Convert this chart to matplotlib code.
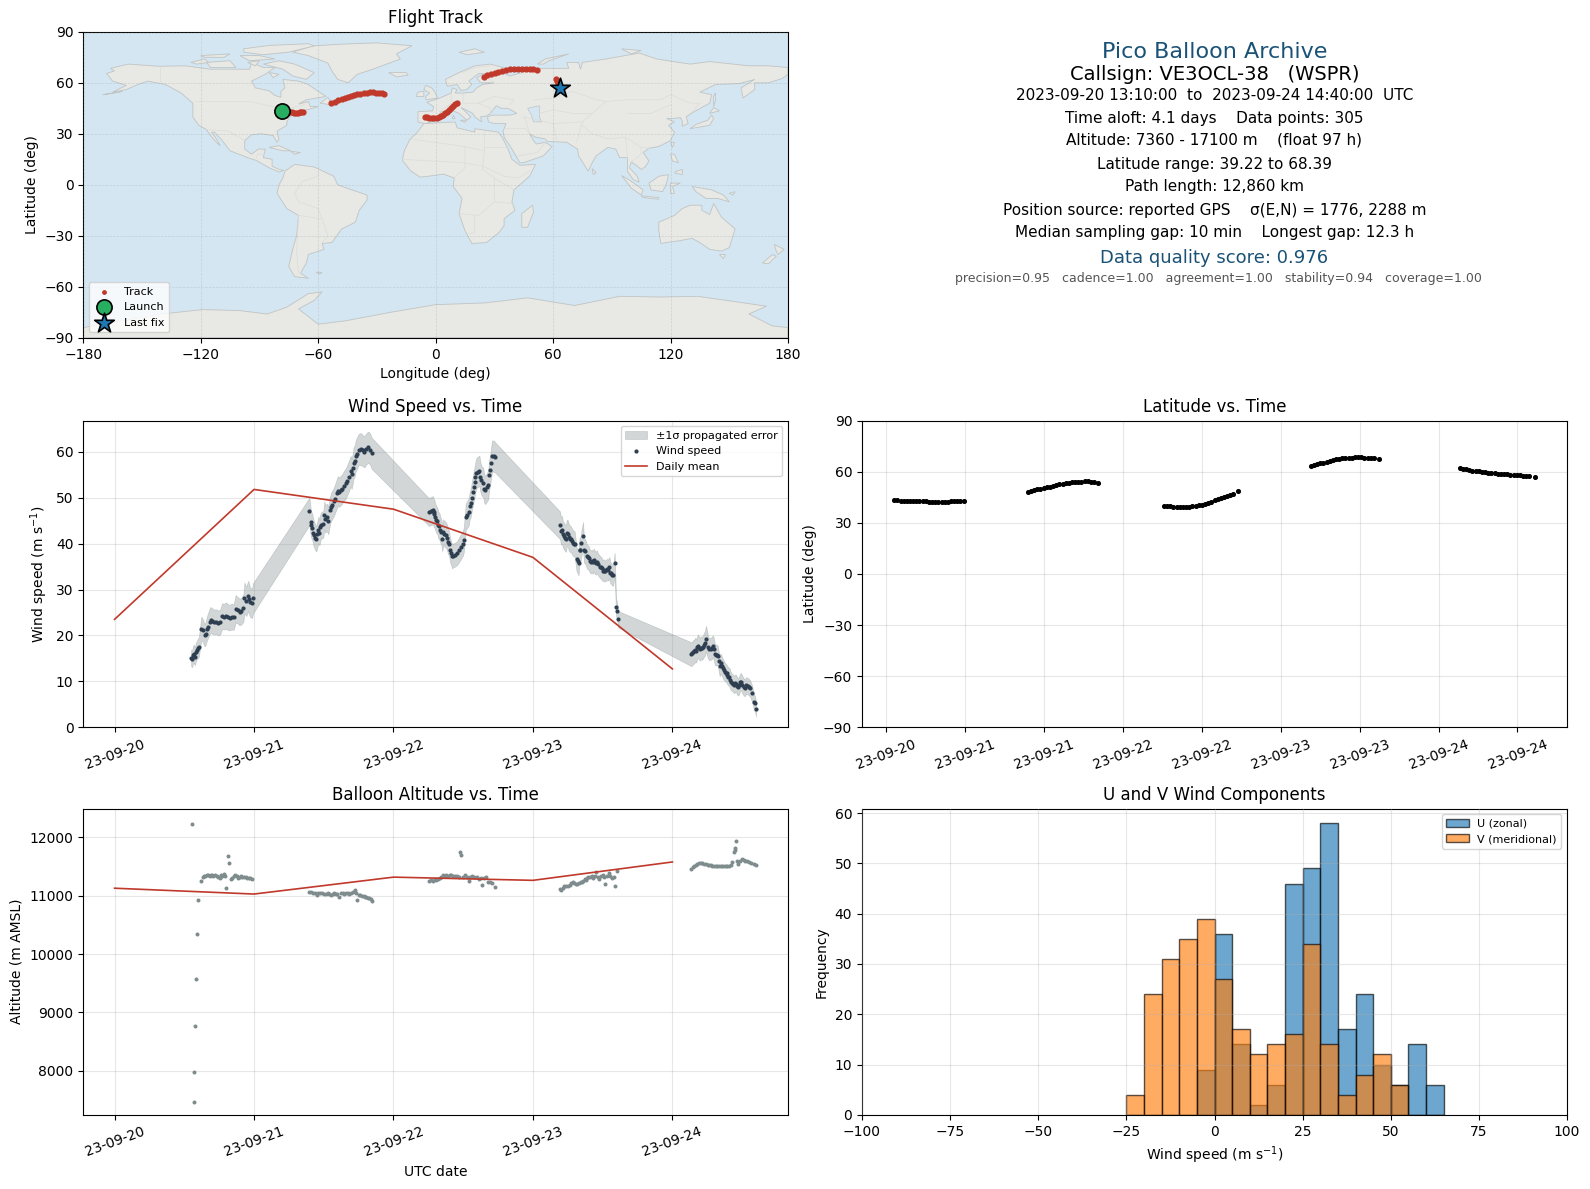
import matplotlib
matplotlib.use("Agg")
import matplotlib.pyplot as plt

W, H = 1590, 1189

# ---- track map ----
track_lon = [-78.7, -77.5, -76.5, -75.5, -74.5, -73.5, -72.5, -71.5, -70.5, -69.5, -68.5, -67.5,
             -53.6, -51.5, -49.8, -48, -46.3, -44.8, -43.2, -41.6, -40, -38.4, -36.8, -35.2, -33.6, -32, -30.4, -29, -27.6, -26.2,
             -5.5, -4.5, -3.2, -2, -0.8, 0.5, 1.8, 3, 4, 5, 6, 7, 8, 9, 10, 11,
             24.8, 26.5, 28.4, 30.2, 32, 34, 36, 38, 40, 42, 44, 46, 48, 50, 51.8,
             61.3, 61.8, 62.3, 62.8, 63.4]
track_lat = [43.4, 43, 42.8, 42.8, 42.8, 42.6, 42.5, 42.5, 42.5, 42.7, 42.8, 42.9,
             48, 48.9, 49.7, 50.6, 51.3, 51.9, 52.4, 52.8, 53.2, 53.5, 53.8, 54.1, 54.3, 54.3, 54.2, 54.1, 53.9, 53.5,
             40, 39.6, 39.3, 39.3, 39.3, 39.4, 39.7, 40.2, 41, 42, 43, 44.2, 45.2, 46.4, 47.4, 48.4,
             63.4, 64.3, 65.2, 65.9, 66.6, 67.2, 67.6, 67.9, 68.2, 68.3, 68.4, 68.3, 68.3, 68.2, 67.8,
             62, 61, 60, 58.8, 57.2]
launch = (-78.7, 43.2)
last_fix = (63.4, 57.1)

north_america = [(-168,65.5),(-164,67),(-166,68.5),(-157,71),(-141,69.7),(-128,70),(-115,68),(-108,68),(-95,68),(-94,72),(-88,69),(-82,69),(-87,65),(-94,61),(-92,57),(-85,55.3),(-82,52.5),(-79,51.5),(-79,55),(-77,57),(-78,62),(-70,61),(-65,59),(-60,55),(-56,52),(-66,50),(-70,47.5),(-65,49),(-64,46),(-60,46),(-66,44),(-70,43.5),(-70,41.7),(-74,40.5),(-76,37),(-76,35),(-81,31.5),(-80,26.5),(-81,25),(-83,29),(-89,30),(-94,29.5),(-97.5,26),(-97.5,21),(-94,18),(-90.5,21),(-87,21),(-88,16),(-83.5,15),(-83.5,11),(-80,9),(-77.5,8.5),(-80,7.5),(-85,10),(-91,14),(-96,16),(-105,20),(-109,26),(-113,31),(-114.5,31),(-112,27),(-110,23),(-112,25),(-115,29),(-117,32.5),(-121,35),(-124,40),(-124,48),(-130,54),(-138,59),(-147,61),(-152,59),(-158,56),(-165,54.5),(-158,58.5),(-165,61)]
greenland = [(-73,78),(-63,81.7),(-47,82.8),(-30,83.5),(-12,81.8),(-20,77),(-18,74),(-25,71),(-32,68),(-40,65),(-44.6,60),(-50,62),(-53,67),(-55,71.6),(-65,76)]
south_america = [(-77,8),(-72,12),(-62,10.5),(-52,5),(-50,0),(-44,-2.5),(-35,-6),(-35,-9),(-39,-15),(-41,-22),(-48,-26),(-53,-34),(-58,-34.5),(-57,-38),(-65,-41),(-66,-46),(-69,-52),(-65,-55),(-72,-54),(-75,-48),(-73,-38),(-71,-30),(-70,-18),(-76,-14),(-81,-5),(-80,0),(-78,4)]
africa = [(-6,36),(10,37),(11,33.5),(20,31),(20,33),(32,31),(34,28),(37,21),(39,15),(43,11.5),(51,12),(48,5),(40,-3),(39,-10),(40.5,-15),(35,-20),(35,-24),(32.5,-28),(26,-34),(18.5,-34.5),(15,-27),(12,-17),(13.5,-8),(9,-1),(9.5,4),(4,6.3),(-4,5),(-8,4.5),(-13,8.5),(-17,14.5),(-16,20),(-13,27),(-10,30)]
eurasia = [(-9,37),(-9,43),(-1.5,43.5),(-1,46),(-4.5,48.5),(2,51),(8,54),(8.5,57),(11,56),(10,54),(14,54),(19,54.5),(21,57),(24,59),(30,60),(23,60),(21,63),(25,65.5),(22,65.5),(17,61),(18.5,59),(16,56),(13,55.5),(11,59),(6,58),(5,62),(12,66),(20,70),(28,71),(41,67),(33,66.5),(38,64),(44,66),(44,68),(54,68.5),(68,68.5),(67,72),(73,72),(74,68),(75,72),(87,74),(104,77.5),(113,74),(130,71),(140,72.5),(160,70),(170,70),(180,69),(180,65),(177,62.5),(170,60),(163,60),(163,56),(157,51),(156,57),(163,62),(155,59.5),(143,59),(135,54.5),(141,53),(140,48),(132,43),(128,40),(129,36),(126,34.5),(126,37.5),(125,39.5),(121,39),(118,39),(122,37),(119,35),(122,31),(120,26),(114,22.5),(109,21.5),(106,19),(109,14),(107,10.5),(105,9),(103,11),(100,13.5),(99,10),(103,5),(104,1.5),(101,3),(98,8),(98,16),(94,16),(92,21),(88,22),(82,17),(80,13),(78,8),(73,17),(72.5,21),(67,25),(57,25.5),(56,27),(51,28),(48,30),(50,26),(51.5,24),(56,25),(59.5,22.5),(55,17),(45,13),(43,13),(39,21),(35,28),(34.5,31.5),(36,36),(30,36),(27,37),(26.5,40),(29,41),(38,41),(41.5,42),(37,45),(33.5,45),(31,46.5),(28,42),(26,40.5),(23,40),(23.5,37),(20,40),(19,42),(13,45.5),(18,40),(16,38),(12,42),(8,44),(3,43),(0,39),(-2,37),(-5.5,36)]
australia = [(114,-22),(122,-18),(126,-14),(130,-12),(136,-12),(136,-15),(140,-17.5),(142,-11),(146,-19),(153,-26),(150,-37),(146,-39),(140,-38),(135,-34),(131,-31.5),(124,-33),(115,-34.5),(114,-27)]
antarctica = [(-180,-84),(-140,-76),(-119,-73.4),(-100,-74),(-86,-76),(-76,-72),(-65,-64),(-58,-63),(-62,-68),(-70,-73),(-60,-82),(-46,-80),(-23,-75),(0,-70.5),(25,-69.5),(47,-66.5),(71,-71),(94,-65.6),(115,-66),(134,-65.6),(169,-71.4),(160,-76),(172,-83),(180,-84),(180,-90),(-180,-90)]
islands = [
    [(-80,73),(-72,71),(-62,66),(-66,62),(-73,64),(-78,68),(-88,71)],
    [(-117,72),(-105,73),(-102,69),(-115,69)],
    [(-98,80),(-85,82),(-65,83),(-62,81.7),(-75,78),(-88,76.5),(-98,78)],
    [(-125,72),(-118,74),(-116,72),(-122,71)],
    [(-100,76),(-90,76),(-82,74),(-95,73)],
    [(-120,76),(-105,77),(-108,75),(-118,75)],
    [(-96,72),(-90,73),(-92,70)],
    [(-85,66),(-80,65),(-83,63)],
    [(-59,48),(-53,47),(-55,51.5)],
    [(-85,22),(-80,23),(-74,20),(-78,20)],
    [(-74,19.7),(-69,19),(-72,18)],
    [(-5,50),(1,51),(0,54),(-2,57),(-5,58.5),(-6,56),(-3,54),(-5,52)],
    [(-10,52),(-6,52),(-6,55),(-9,54.5)],
    [(-24,66),(-15,66),(-14,64.5),(-20,63.5)],
    [(12,78),(20,80),(25,78),(16,76.5)],
    [(52,71),(56,74),(68,77),(58,73),(55,71)],
    [(95,80),(105,79),(100,77)],
    [(130,33),(135,34),(140,35),(142,39),(141,41),(139,38),(133,35.5)],
    [(140,42),(145,43.5),(142,45.5)],
    [(142,46),(143,50),(143,54),(142,52)],
    [(120,18),(122,18),(124,13),(121,14)],
    [(122,7),(126,6),(126,9),(123,8)],
    [(109,1),(114,5),(119,6),(118,1),(116,-4),(110,-3)],
    [(95,5.5),(100,2),(106,-3),(105,-6),(100,-2)],
    [(105,-6.5),(114,-7.5),(114,-8.5),(106,-7.5)],
    [(120,1),(125,1),(121,-1),(122,-5),(120,-5)],
    [(131,-1),(141,-3),(147,-6),(150,-10),(144,-8),(138,-8),(133,-4)],
    [(145,-41),(148,-41),(147,-43.5)],
    [(173,-35),(178,-38),(175,-41),(174,-39)],
    [(172,-41),(174,-42),(170,-46.5),(167,-46)],
    [(49.5,-12),(50,-16),(47,-25),(44,-25),(44,-17)],
    [(80,9.5),(82,7),(80.5,6)],
    [(120,25),(122,25),(121,22)],
    [(9,41),(10,39),(8.5,39)],
    [(12.5,38),(15.5,38),(15,36.7)],
    [(-61,-51.5),(-58,-51.5),(-59,-52.5)],
    [(-170,53),(-160,55),(-164,54)],
    [(150,-5),(153,-4),(152,-6)],
]
caspian = [(47,45),(53,46.5),(53,40),(54,37),(50,37),(49,41)]
borders = [
    [(-123,49),(-95,49),(-83,46),(-79,43),(-75,45),(-67,47)],
    [(-141,69.7),(-141,60)],
    [(-117,32.5),(-106,31.7),(-97.5,26)],
    [(-92,14.5),(-91,18),(-88,18)],
    [(-70,-18),(-58,-20),(-55,-30),(-58,-34)],
    [(-72,-5),(-70,-10),(-60,-14),(-58,-20)],
    [(-70,-18),(-71,-40),(-70,-52)],
    [(-72,-5),(-68,2),(-60,5),(-60,8)],
    [(-13,27),(12,23),(25,20),(25,31)],
    [(25,22),(37,22)],
    [(15,23),(15,10),(9.5,4)],
    [(25,22),(24,9),(30,4),(30,-10),(22,-18),(12,-17)],
    [(-17,15),(14,13),(24,11),(35,5),(42,4),(48,8)],
    [(30,-10),(40,-11)],
    [(20,-18),(20,-28),(17,-29)],
    [(30,4),(40,-3)],
    [(2,43),(8,48),(8,54)],
    [(14,54),(14,48),(22,48),(30,52),(40,50),(38,47)],
    [(13,47),(7,44)],
    [(22,48),(28,45),(28,42)],
    [(25,65),(30,60)],
    [(14,66),(20,69),(28,70)],
    [(50,50),(60,51),(70,55),(82,50),(87,49),(98,50),(115,50),(120,53),(130,48),(135,48),(131,43)],
    [(53,42),(60,44),(70,42),(80,42),(87,49)],
    [(60,36),(75,37),(80,42)],
    [(45,40),(60,36),(62,25)],
    [(48,30),(46,38),(45,40)],
    [(36,33),(46,33),(48,30)],
    [(75,37),(72,25)],
    [(75,35),(80,30),(88,27),(97,28),(98,16)],
    [(97,28),(105,22),(109,21.5)],
    [(100,13.5),(105,18),(105,22)],
    [(98,42),(110,42),(120,47)],
    [(42,17),(52,19),(56,25)],
]

# ---- wind speed ----
wind_t = [0.549, 0.556, 0.563, 0.569, 0.576, 0.583, 0.590, 0.597, 0.604, 0.622, 0.632, 0.646, 0.653, 0.660, 0.667, 0.681, 0.688, 0.701, 0.715, 0.729, 0.743, 0.757, 0.771, 0.785, 0.799, 0.812, 0.826, 0.840, 0.854, 0.868, 0.882, 0.896, 0.910, 0.924, 0.931, 0.944, 0.958, 0.965, 0.972, 0.986, 0.993,
          1.397, 1.407, 1.412, 1.419, 1.426, 1.433, 1.440, 1.447, 1.454, 1.462, 1.469, 1.476, 1.483, 1.497, 1.504, 1.511, 1.525, 1.532, 1.546, 1.553, 1.560, 1.574, 1.581, 1.595, 1.602, 1.609, 1.623, 1.630, 1.644, 1.658, 1.665, 1.679, 1.693, 1.700, 1.708, 1.714, 1.722, 1.729, 1.736, 1.750, 1.764, 1.778, 1.792, 1.806, 1.820, 1.834, 1.843,
          2.257, 2.266, 2.273, 2.280, 2.287, 2.294, 2.301, 2.308, 2.315, 2.322, 2.329, 2.336, 2.343, 2.350, 2.357, 2.364, 2.378, 2.385, 2.392, 2.399, 2.406, 2.413, 2.420, 2.427, 2.441, 2.455, 2.469, 2.483, 2.497, 2.504, 2.518, 2.525, 2.539, 2.546, 2.553, 2.560, 2.567, 2.574, 2.581, 2.588, 2.595, 2.609, 2.616, 2.623, 2.630, 2.644, 2.651, 2.658, 2.672, 2.679, 2.686, 2.693, 2.700, 2.707, 2.721, 2.728,
          3.194, 3.201, 3.208, 3.215, 3.222, 3.229, 3.236, 3.243, 3.250, 3.257, 3.264, 3.271, 3.278, 3.285, 3.292, 3.299, 3.313, 3.320, 3.327, 3.334, 3.341, 3.348, 3.359, 3.366, 3.373, 3.387, 3.394, 3.401, 3.408, 3.415, 3.422, 3.429, 3.436, 3.443, 3.450, 3.457, 3.464, 3.478, 3.485, 3.492, 3.499, 3.506, 3.513, 3.520, 3.534, 3.541, 3.548, 3.555, 3.562, 3.569, 3.576, 3.586, 3.596, 3.603, 3.612,
          4.136, 4.143, 4.150, 4.157, 4.164, 4.171, 4.178, 4.185, 4.192, 4.199, 4.206, 4.213, 4.220, 4.227, 4.234, 4.241, 4.255, 4.262, 4.276, 4.283, 4.290, 4.297, 4.304, 4.311, 4.318, 4.325, 4.332, 4.339, 4.346, 4.353, 4.360, 4.367, 4.374, 4.381, 4.388, 4.395, 4.402, 4.409, 4.416, 4.423, 4.430, 4.437, 4.444, 4.451, 4.458, 4.465, 4.472, 4.479, 4.486, 4.493, 4.500, 4.514, 4.521, 4.528, 4.542, 4.549, 4.556, 4.571, 4.585, 4.592, 4.600]
wind_v = [15.1, 14.9, 15.8, 16.0, 15.4, 16.4, 16.8, 17.2, 17.4, 21.5, 21.1, 20.0, 20.4, 21.3, 21.9, 23.0, 23.4, 23.1, 22.9, 23.0, 22.7, 22.9, 24.2, 24.1, 24.3, 24.0, 23.9, 24.1, 24.0, 25.8, 25.5, 25.1, 25.3, 26.0, 28.2, 27.4, 28.6, 27.9, 27.2, 27.0, 28.1,
          47.0, 44.6, 44.0, 43.5, 42.4, 41.8, 41.3, 41.1, 42.0, 43.0, 42.4, 43.6, 44.0, 44.2, 46.2, 45.4, 45.7, 45.0, 47.4, 48.0, 48.4, 49.2, 49.8, 51.0, 51.5, 51.2, 51.6, 51.8, 52.6, 53.1, 53.6, 54.6, 55.8, 55.2, 56.4, 57.6, 58.0, 59.1, 59.6, 60.5, 60.6, 60.3, 60.0, 60.7, 61.0, 60.5, 59.7,
          46.8, 47.2, 47.0, 47.4, 46.9, 46.4, 45.7, 45.2, 44.9, 44.0, 43.8, 43.0, 42.6, 41.1, 42.5, 42.2, 41.8, 41.2, 40.4, 40.0, 38.5, 38.0, 37.2, 37.4, 37.6, 37.9, 38.6, 39.3, 40.0, 40.8, 45.8, 46.2, 46.9, 48.2, 48.8, 50.0, 51.2, 52.3, 53.4, 54.6, 55.4, 55.7, 55.9, 54.5, 53.8, 53.2, 52.0, 51.7, 52.4, 52.8, 54.9, 56.0, 57.6, 59.1, 59.0, 58.8,
          44.0, 42.8, 43.0, 42.0, 41.7, 41.3, 41.1, 42.3, 42.2, 41.4, 41.1, 41.0, 40.6, 40.2, 40.0, 39.9, 36.6, 36.2, 35.7, 38.6, 38.7, 40.1, 41.7, 38.5, 38.4, 37.2, 37.0, 36.8, 36.2, 36.0, 36.2, 35.9, 36.4, 36.0, 35.7, 36.1, 35.6, 35.0, 34.8, 34.6, 34.1, 34.3, 34.0, 34.1, 34.4, 34.2, 34.8, 33.6, 33.5, 33.1, 33.2, 35.7, 26.2, 25.4, 23.5,
          15.9, 16.1, 16.4, 16.5, 16.9, 16.6, 17.4, 17.6, 17.2, 17.0, 17.3, 17.2, 17.5, 18.0, 18.3, 19.3, 17.5, 17.0, 17.1, 17.3, 17.6, 17.0, 15.9, 15.7, 15.7, 15.6, 14.4, 13.3, 13.9, 13.4, 12.9, 12.5, 12.1, 11.9, 11.7, 11.3, 11.0, 10.9, 10.2, 9.9, 9.7, 9.5, 9.3, 9.6, 9.4, 8.9, 8.8, 9.2, 9.8, 9.9, 9.3, 8.7, 8.6, 9.1, 8.9, 8.7, 8.5, 7.4, 5.4, 5.2, 3.9]
wind_sig = [1.8, 1.8, 1.9, 2.0, 1.9, 2.0, 2.0, 2.1, 2.1, 2.6, 2.5, 2.4, 2.5, 2.6, 2.7, 2.8, 2.8, 2.8, 2.7, 2.7, 2.7, 2.7, 2.8, 2.8, 2.9, 2.8, 2.8, 2.8, 2.8, 3.0, 2.9, 2.9, 2.9, 3.0, 3.3, 3.2, 3.3, 3.3, 3.2, 3.2, 3.3,
            3.0, 2.9, 2.9, 2.8, 2.8, 2.8, 2.8, 2.8, 2.8, 2.9, 2.8, 2.9, 2.9, 2.9, 3.0, 3.0, 3.0, 3.0, 3.0, 3.1, 3.1, 3.1, 3.1, 3.2, 3.2, 3.2, 3.2, 3.2, 3.2, 3.3, 3.3, 3.3, 3.3, 3.3, 3.3, 3.4, 3.4, 3.4, 3.4, 3.4, 3.5, 3.4, 3.4, 3.4, 3.4, 3.4, 3.4,
            3.0, 3.0, 3.0, 3.0, 3.0, 3.0, 2.9, 2.9, 2.9, 2.9, 2.9, 2.8, 2.8, 2.8, 2.8, 2.8, 2.8, 2.8, 2.7, 2.7, 2.6, 2.6, 2.6, 2.6, 2.6, 2.6, 2.7, 2.7, 2.7, 2.7, 2.9, 2.9, 3.0, 3.0, 3.1, 3.1, 3.2, 3.2, 3.3, 3.3, 3.3, 3.3, 3.3, 3.2, 3.2, 3.2, 3.1, 3.1, 3.1, 3.2, 3.2, 3.3, 3.3, 3.4, 3.4, 3.3,
            3.0, 3.0, 3.0, 2.9, 2.9, 2.9, 2.9, 2.9, 2.9, 2.9, 2.9, 2.8, 2.8, 2.8, 2.8, 2.8, 2.6, 2.6, 2.6, 2.7, 2.7, 2.8, 3.0, 2.7, 2.7, 2.6, 2.6, 2.6, 2.5, 2.5, 2.5, 2.5, 2.5, 2.5, 2.5, 2.5, 2.4, 2.4, 2.4, 2.4, 2.3, 2.3, 2.3, 2.3, 2.3, 2.3, 2.3, 2.3, 2.3, 2.3, 2.3, 2.3, 1.9, 1.9, 1.8,
            2.6, 2.6, 2.6, 2.6, 2.6, 2.5, 2.5, 2.6, 2.5, 2.5, 2.5, 2.5, 2.5, 2.6, 2.7, 2.8, 2.5, 2.4, 2.4, 2.4, 2.4, 2.4, 2.3, 2.3, 2.2, 2.2, 2.2, 2.2, 2.2, 2.1, 2.1, 2.1, 2.0, 2.0, 2.0, 2.0, 2.0, 2.0, 2.0, 1.9, 1.9, 1.9, 1.9, 1.9, 1.9, 1.9, 1.9, 1.9, 1.9, 1.9, 1.9, 1.9, 1.8, 1.8, 1.8, 1.8, 1.8, 1.8, 1.7, 1.7, 1.6]
day_ticks = [0, 1, 2, 3, 4]
day_labels = ['23-09-20', '23-09-21', '23-09-22', '23-09-23', '23-09-24']
wind_daily = [23.5, 51.8, 47.5, 37.0, 12.7]

# ---- latitude ----
lat_t = [0.549, 0.570, 0.590, 0.610, 0.630, 0.650, 0.670, 0.690, 0.710, 0.730, 0.750, 0.770, 0.790, 0.810, 0.830, 0.850, 0.870, 0.890, 0.910, 0.930, 0.950, 0.970, 0.990,
         1.397, 1.417, 1.437, 1.457, 1.477, 1.497, 1.517, 1.537, 1.557, 1.577, 1.597, 1.617, 1.637, 1.657, 1.677, 1.697, 1.717, 1.737, 1.757, 1.777, 1.797, 1.817, 1.843,
         2.260, 2.280, 2.300, 2.320, 2.340, 2.360, 2.380, 2.400, 2.420, 2.440, 2.460, 2.480, 2.500, 2.520, 2.540, 2.560, 2.580, 2.600, 2.620, 2.640, 2.660, 2.680, 2.700, 2.732,
         3.192, 3.210, 3.230, 3.250, 3.270, 3.290, 3.310, 3.330, 3.350, 3.370, 3.390, 3.410, 3.430, 3.450, 3.470, 3.490, 3.510, 3.530, 3.550, 3.570, 3.590, 3.620,
         4.135, 4.155, 4.175, 4.195, 4.215, 4.235, 4.255, 4.275, 4.295, 4.315, 4.335, 4.355, 4.375, 4.395, 4.415, 4.435, 4.455, 4.475, 4.495, 4.515, 4.535, 4.555, 4.575, 4.612]
lat_v = [43.6, 43.4, 43.0, 42.8, 42.8, 42.9, 42.9, 42.8, 42.8, 42.7, 42.6, 42.5, 42.4, 42.4, 42.4, 42.4, 42.4, 42.5, 42.6, 42.8, 42.9, 42.9, 42.8,
         48.3, 48.7, 49.1, 49.6, 50.0, 50.4, 50.9, 51.3, 51.7, 52.2, 52.6, 52.9, 53.2, 53.5, 53.7, 53.9, 54.1, 54.2, 54.3, 54.3, 54.2, 54.1, 53.6,
         40.1, 39.9, 39.6, 39.4, 39.3, 39.3, 39.3, 39.3, 39.4, 39.6, 39.9, 40.3, 40.7, 41.2, 41.8, 42.4, 43.1, 43.7, 44.4, 45.0, 45.7, 46.4, 47.1, 48.4,
         63.4, 63.9, 64.4, 64.9, 65.4, 65.9, 66.3, 66.7, 67.2, 67.6, 67.9, 68.1, 68.2, 68.3, 68.4, 68.4, 68.4, 68.3, 68.3, 68.3, 68.2, 67.5,
         62.0, 61.6, 61.4, 61.0, 60.7, 60.4, 60.2, 59.9, 59.6, 59.4, 59.2, 59.0, 58.9, 58.7, 58.5, 58.4, 58.2, 58.0, 57.8, 57.8, 57.7, 57.6, 57.5, 57.0]
lat_ticks = [0.5, 1, 1.5, 2, 2.5, 3, 3.5, 4, 4.5]
lat_tick_labels = ['23-09-20', '23-09-21', '23-09-21', '23-09-22', '23-09-22', '23-09-23', '23-09-23', '23-09-24', '23-09-24']

# ---- altitude ----
alt_t = [0.558, 0.567, 0.571, 0.580, 0.587, 0.593, 0.599, 0.622, 0.634, 0.644, 0.651, 0.661, 0.671, 0.681, 0.689, 0.699, 0.709, 0.721, 0.731, 0.741, 0.753, 0.763, 0.773, 0.785, 0.791, 0.801, 0.814, 0.821, 0.833, 0.843, 0.853, 0.865, 0.875, 0.885, 0.897, 0.907, 0.917, 0.929, 0.939, 0.949, 0.962, 0.972, 0.987,
         1.397, 1.410, 1.426, 1.438, 1.449, 1.462, 1.476, 1.490, 1.503, 1.516, 1.527, 1.538, 1.551, 1.564, 1.575, 1.587, 1.598, 1.609, 1.622, 1.635, 1.647, 1.659, 1.671, 1.683, 1.695, 1.708, 1.721, 1.729, 1.737, 1.750, 1.763, 1.775, 1.785, 1.795, 1.805, 1.816, 1.827, 1.836, 1.843,
         2.258, 2.270, 2.283, 2.296, 2.308, 2.320, 2.332, 2.344, 2.356, 2.368, 2.380, 2.392, 2.404, 2.416, 2.428, 2.440, 2.452, 2.468, 2.478, 2.487, 2.500, 2.516, 2.527, 2.538, 2.550, 2.565, 2.580, 2.596, 2.612, 2.624, 2.635, 2.648, 2.660, 2.676, 2.690, 2.708, 2.728,
         3.192, 3.202, 3.213, 3.225, 3.238, 3.253, 3.265, 3.276, 3.285, 3.298, 3.310, 3.317, 3.330, 3.342, 3.349, 3.360, 3.372, 3.381, 3.390, 3.397, 3.410, 3.420, 3.429, 3.442, 3.455, 3.466, 3.477, 3.490, 3.500, 3.510, 3.519, 3.530, 3.542, 3.555, 3.567, 3.580, 3.590, 3.606,
         4.135, 4.145, 4.155, 4.167, 4.180, 4.192, 4.204, 4.215, 4.228, 4.240, 4.252, 4.263, 4.275, 4.287, 4.299, 4.311, 4.323, 4.335, 4.347, 4.359, 4.371, 4.383, 4.395, 4.407, 4.418, 4.429, 4.442, 4.448, 4.452, 4.455, 4.463, 4.471, 4.482, 4.497, 4.510, 4.522, 4.535, 4.548, 4.567, 4.583, 4.600]
alt_v = [12231, 7462, 7974, 8761, 9581, 10350, 10932, 11256, 11330, 11345, 11342, 11350, 11362, 11345, 11359, 11350, 11335, 11348, 11340, 11320, 11313, 11360, 11340, 11376, 11345, 11131, 11684, 11564, 11290, 11310, 11345, 11359, 11345, 11300, 11330, 11340, 11330, 11330, 11325, 11310, 11313, 11300, 11285,
         11063, 11070, 11046, 11040, 11006, 11040, 11045, 11040, 11034, 11028, 11040, 11034, 11020, 11030, 11045, 11028, 11035, 10972, 11040, 11046, 11030, 11040, 11045, 11028, 11045, 11060, 11103, 11050, 10932, 11010, 11006, 11000, 10990, 10972, 10980, 10965, 10960, 10950, 10915,
         11256, 11265, 11250, 11280, 11274, 11290, 11310, 11330, 11348, 11340, 11360, 11345, 11359, 11350, 11340, 11335, 11340, 11330, 11758, 11700, 11330, 11359, 11320, 11262, 11330, 11345, 11319, 11330, 11290, 11310, 11177, 11300, 11330, 11234, 11240, 11217, 11154,
         11115, 11103, 11130, 11160, 11170, 11160, 11190, 11215, 11234, 11225, 11205, 11200, 11225, 11245, 11234, 11250, 11285, 11274, 11300, 11330, 11315, 11335, 11313, 11340, 11416, 11330, 11290, 11345, 11360, 11330, 11200, 11340, 11387, 11340, 11302, 11320, 11160, 11427,
         11461, 11490, 11515, 11530, 11545, 11555, 11560, 11564, 11550, 11540, 11535, 11530, 11520, 11515, 11510, 11507, 11505, 11510, 11505, 11507, 11510, 11515, 11515, 11518, 11530, 11575, 11758, 11790, 11815, 11940, 11600, 11541, 11600, 11627, 11610, 11605, 11598, 11585, 11570, 11545, 11524]
alt_daily = [11130, 11030, 11320, 11265, 11580]

# ---- U/V histogram ----
bin_left = [-25, -20, -15, -10, -5, 0, 5, 10, 15, 20, 25, 30, 35, 40, 45, 50, 55, 60]
u_counts = [0, 0, 0, 0, 9, 36, 14, 2, 6, 46, 49, 58, 17, 24, 10, 6, 14, 6]
v_counts = [4, 24, 31, 35, 39, 27, 17, 12, 14, 16, 34, 14, 4, 8, 12, 6, 0, 0]

# ---- summary text ----
info_lines = [
    'Callsign: VE3OCL-38   (WSPR)',
    '2023-09-20 13:10:00  to  2023-09-24 14:40:00  UTC',
    'Time aloft: 4.1 days    Data points: 305',
    'Altitude: 7360 - 17100 m    (float 97 h)',
    'Latitude range: 39.22 to 68.39',
    'Path length: 12,860 km',
    'Position source: reported GPS    σ(E,N) = 1776, 2288 m',
    'Median sampling gap: 10 min    Longest gap: 12.3 h',
]
info_y = [75, 95, 118, 140, 164, 187, 210, 233]
info_size = [14, 11, 11, 11, 11, 11, 11, 11]

RED = '#c0392b'
NAVY = '#2c3e50'
GREY = '#7f8c8d'
BLUE = '#1a5276'


def make_axes(x0, y0, x1, y1):
    return fig.add_axes([x0 / W, 1 - y1 / H, (x1 - x0) / W, (y1 - y0) / H])


fig = plt.figure(figsize=(W / 100, H / 100), dpi=100)
LEFT = (83.2, 788)
RIGHT = (862, 1567)
ax_map = make_axes(LEFT[0], 31.8, LEFT[1], 337.8)
ax_wind = make_axes(LEFT[0], 420.6, LEFT[1], 727.2)
ax_lat = make_axes(RIGHT[0], 420.6, RIGHT[1], 727.2)
ax_alt = make_axes(LEFT[0], 808.6, LEFT[1], 1114.8)
ax_hist = make_axes(RIGHT[0], 808.6, RIGHT[1], 1114.8)

# map
ax_map.set_facecolor('#d4e6f1')
for poly in [north_america, greenland, south_america, africa, eurasia, australia, antarctica] + islands:
    ax_map.fill([p[0] for p in poly], [p[1] for p in poly], facecolor='#e8e8e4',
                edgecolor='#c0c4c4', linewidth=0.6, zorder=1)
ax_map.fill([p[0] for p in caspian], [p[1] for p in caspian], facecolor='#d4e6f1',
            edgecolor='#c0c4c4', linewidth=0.5, zorder=1)
for line in borders:
    ax_map.plot([p[0] for p in line], [p[1] for p in line], color='#dcdcda', linewidth=0.5, zorder=1.5)
ax_map.scatter(track_lon, track_lat, s=12, color=RED, zorder=3)
ax_map.scatter([], [], s=6, color=RED, label='Track')
ax_map.scatter(*launch, s=120, color='#27ae60', edgecolor='black', linewidth=1.2, zorder=4, label='Launch')
ax_map.scatter(*last_fix, s=220, marker='*', color='#1f77b4', edgecolor='black', linewidth=1.2, zorder=4, label='Last fix')
ax_map.set_xlim(-180, 180)
ax_map.set_ylim(-90, 90)
ax_map.set_xticks(range(-180, 181, 60))
ax_map.set_yticks(range(-90, 91, 30))
ax_map.grid(alpha=0.25, linewidth=0.5, linestyle='--', color='#7f8c8d', zorder=2)
ax_map.set_axisbelow(False)
ax_map.set_xlabel('Longitude (deg)')
ax_map.set_ylabel('Latitude (deg)')
ax_map.set_title('Flight Track')
ax_map.legend(loc='lower left', fontsize=8)

# summary text
center_x = (RIGHT[0] + RIGHT[1]) / 2 / W
fig.text(center_x, 1 - 52 / H, 'Pico Balloon Archive', ha='center', va='center', fontsize=16, color=BLUE)
for txt, y, size in zip(info_lines, info_y, info_size):
    fig.text(center_x, 1 - y / H, txt, ha='center', va='center', fontsize=size)
fig.text(center_x, 1 - 258 / H, 'Data quality score: 0.976', ha='center', va='center', fontsize=13, color=BLUE)
fig.text(center_x + 4 / W, 1 - 279 / H, 'precision=0.95   cadence=1.00   agreement=1.00   stability=0.94   coverage=1.00',
         ha='center', va='center', fontsize=9, color='#555555')

# wind speed
lower = [v - s for v, s in zip(wind_v, wind_sig)]
upper = [v + s for v, s in zip(wind_v, wind_sig)]
ax_wind.fill_between(wind_t, lower, upper, color=GREY, alpha=0.35, linewidth=0.5, label='±1σ propagated error')
ax_wind.scatter(wind_t, wind_v, s=4, color=NAVY, zorder=3, label='Wind speed')
ax_wind.plot(day_ticks, wind_daily, color=RED, linewidth=1.2, zorder=4, label='Daily mean')
ax_wind.set_xlim(-0.225, 4.829)
ax_wind.set_ylim(0, 66.8)
ax_wind.set_xticks(day_ticks)
ax_wind.set_xticklabels(day_labels, rotation=20)
ax_wind.grid(alpha=0.3)
ax_wind.set_axisbelow(True)
ax_wind.set_ylabel('Wind speed (m s$^{-1}$)')
ax_wind.set_title('Wind Speed vs. Time')
ax_wind.legend(loc='upper right', fontsize=8)

# latitude
ax_lat.scatter(lat_t, lat_v, s=7, color='black', zorder=3)
ax_lat.set_xlim(0.346, 4.814)
ax_lat.set_ylim(-90, 90)
ax_lat.set_yticks(range(-90, 91, 30))
ax_lat.set_xticks(lat_ticks)
ax_lat.set_xticklabels(lat_tick_labels, rotation=20)
ax_lat.grid(alpha=0.3)
ax_lat.set_axisbelow(True)
ax_lat.set_ylabel('Latitude (deg)')
ax_lat.set_title('Latitude vs. Time')

# altitude
ax_alt.scatter(alt_t, alt_v, s=3.5, color=GREY, zorder=3)
ax_alt.plot(day_ticks, alt_daily, color=RED, linewidth=1.2, zorder=4)
ax_alt.set_xlim(-0.225, 4.829)
ax_alt.set_ylim(7245, 12495)
ax_alt.set_yticks([8000, 9000, 10000, 11000, 12000])
ax_alt.set_xticks(day_ticks)
ax_alt.set_xticklabels(day_labels, rotation=20)
ax_alt.grid(alpha=0.3)
ax_alt.set_axisbelow(True)
ax_alt.set_xlabel('UTC date')
ax_alt.set_ylabel('Altitude (m AMSL)')
ax_alt.set_title('Balloon Altitude vs. Time')

# histogram
ax_hist.bar(bin_left, u_counts, width=5, align='edge', color='#1f77b4', alpha=0.65, edgecolor='black', label='U (zonal)')
ax_hist.bar(bin_left, v_counts, width=5, align='edge', color='#ff7f0e', alpha=0.65, edgecolor='black', label='V (meridional)')
ax_hist.set_xlim(-100, 100)
ax_hist.set_ylim(0, 60.9)
ax_hist.grid(alpha=0.3)
ax_hist.set_axisbelow(False)
ax_hist.set_xlabel('Wind speed (m s$^{-1}$)')
ax_hist.set_ylabel('Frequency')
ax_hist.set_title('U and V Wind Components')
ax_hist.legend(loc='upper right', fontsize=8)

fig.savefig('out.png', dpi=100)
